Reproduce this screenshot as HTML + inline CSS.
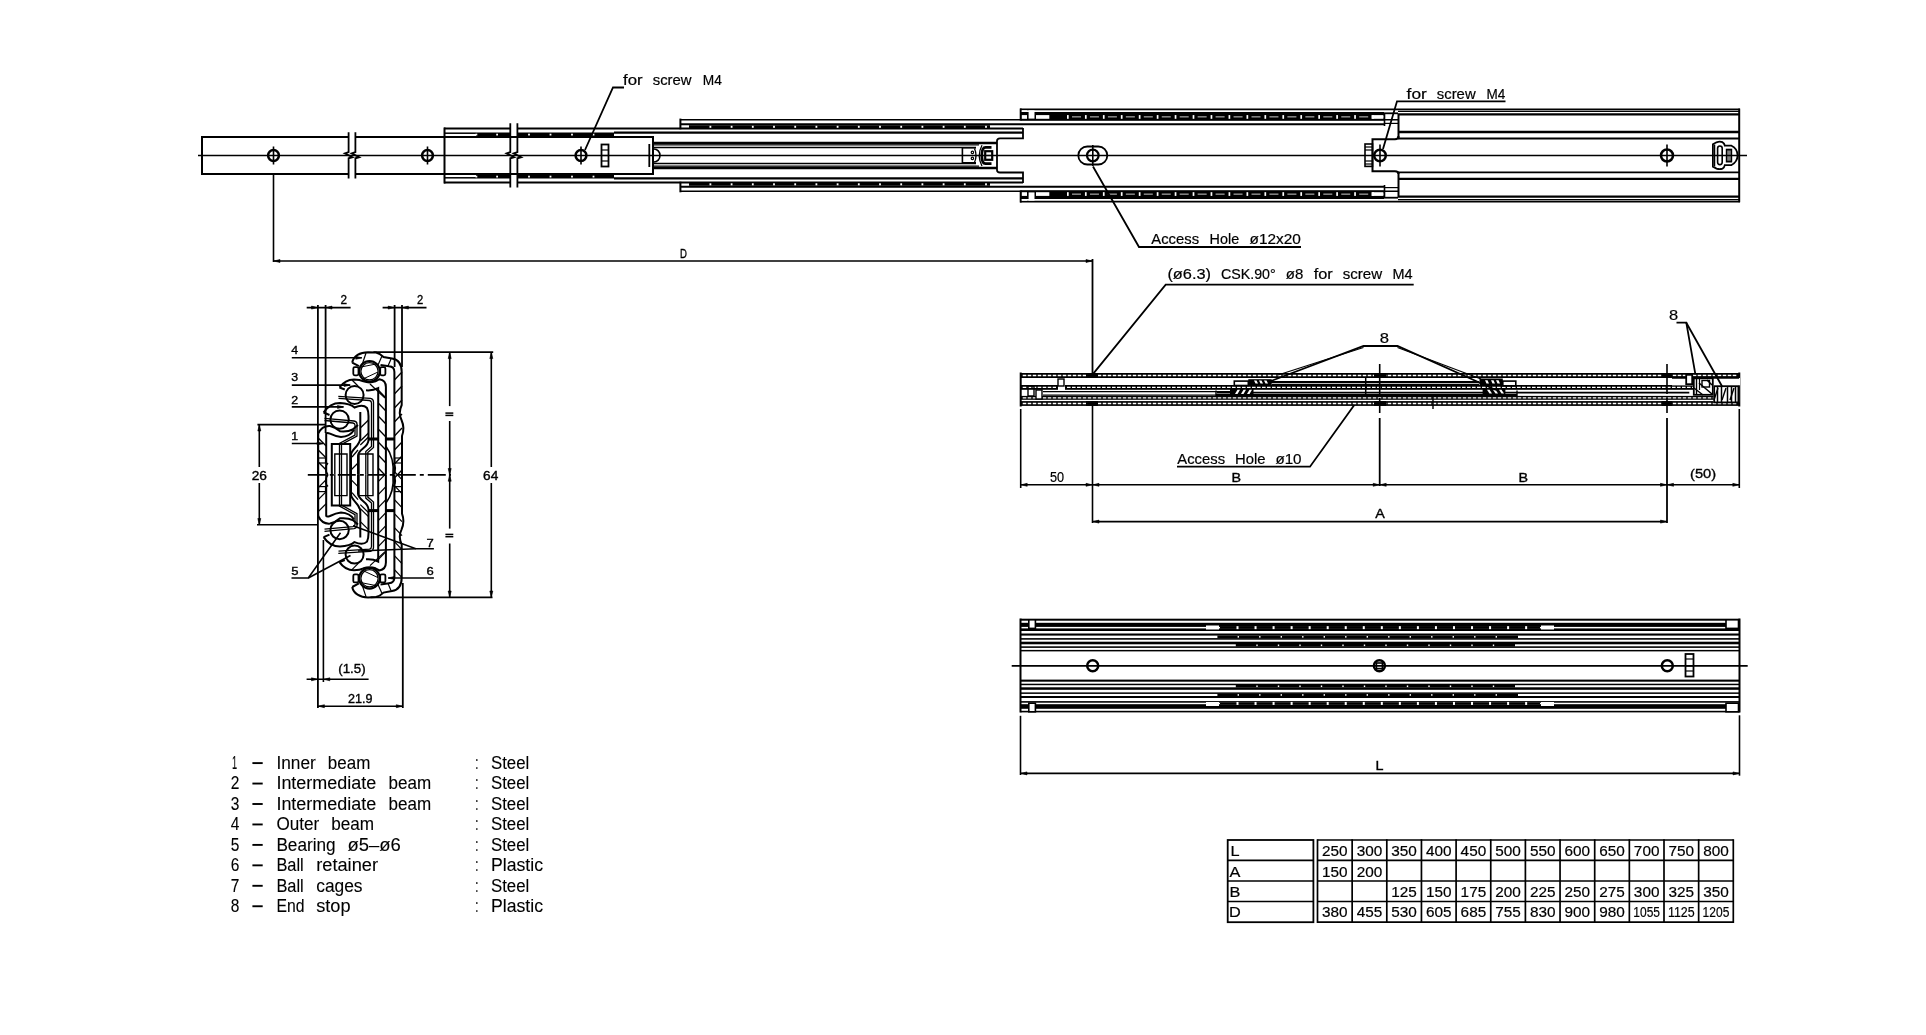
<!DOCTYPE html>
<html><head><meta charset="utf-8"><style>
html,body{margin:0;padding:0;background:#fff;width:1926px;height:1035px;overflow:hidden}
svg{display:block;will-change:transform}
text{font-family:"Liberation Sans",sans-serif;fill:#000}
</style></head><body>
<svg width="1926" height="1035" viewBox="0 0 1926 1035">
<rect x="0" y="0" width="1926" height="1035" fill="#fff"/>
<g stroke="#000" fill="none" stroke-linecap="butt">
<line x1="198" y1="155.5" x2="1747" y2="155.5" stroke-width="1.7" />
<line x1="201" y1="137" x2="349" y2="137" stroke-width="2.0" />
<line x1="356" y1="137" x2="653" y2="137" stroke-width="2.0" />
<line x1="201" y1="174" x2="349" y2="174" stroke-width="2.0" />
<line x1="356" y1="174" x2="653" y2="174" stroke-width="2.0" />
<line x1="202" y1="136" x2="202" y2="175" stroke-width="2.0" />
<line x1="653" y1="136" x2="653" y2="175" stroke-width="2.0" />
<path d="M348.6,132.2 L348.6,152.2 L344.90000000000003,153.4 L352.40000000000003,157.2 L348.6,158.3 L348.6,178.6" fill="none" stroke-width="1.8" />
<path d="M355.4,132.2 L355.4,152.2 L351.7,153.4 L359.2,157.2 L355.4,158.3 L355.4,178.6" fill="none" stroke-width="1.8" />
<circle cx="273.5" cy="155.5" r="5.4" fill="none" stroke-width="2.5"/>
<line x1="273.5" y1="146.5" x2="273.5" y2="164.5" stroke-width="1.6" />
<circle cx="427.5" cy="155.5" r="5.4" fill="none" stroke-width="2.5"/>
<line x1="427.5" y1="146.5" x2="427.5" y2="164.5" stroke-width="1.6" />
<circle cx="581" cy="155.5" r="5.4" fill="none" stroke-width="2.5"/>
<line x1="581" y1="146.5" x2="581" y2="164.5" stroke-width="1.6" />
<line x1="444" y1="128.5" x2="510" y2="128.5" stroke-width="2.0" />
<line x1="518" y1="128.5" x2="1023" y2="128.5" stroke-width="2.0" />
<line x1="444" y1="182.5" x2="510" y2="182.5" stroke-width="2.0" />
<line x1="518" y1="182.5" x2="1023" y2="182.5" stroke-width="2.0" />
<line x1="444.5" y1="127.5" x2="444.5" y2="183.5" stroke-width="2.0" />
<line x1="444" y1="133.2" x2="476" y2="133.2" stroke-width="1.5" />
<line x1="444" y1="177.8" x2="476" y2="177.8" stroke-width="1.5" />
<rect x="476" y="132.5" width="34" height="4.0" fill="#000" stroke="none"/>
<rect x="518" y="132.5" width="96" height="4.0" fill="#000" stroke="none"/>
<rect x="475.5" y="133.7" width="1.8" height="1.8" fill="#fff" stroke="none"/>
<rect x="496.2" y="133.7" width="1.8" height="1.8" fill="#fff" stroke="none"/>
<rect x="528.1" y="133.7" width="1.8" height="1.8" fill="#fff" stroke="none"/>
<rect x="549.6" y="133.7" width="1.8" height="1.8" fill="#fff" stroke="none"/>
<rect x="571.1" y="133.7" width="1.8" height="1.8" fill="#fff" stroke="none"/>
<rect x="592.6" y="133.7" width="1.8" height="1.8" fill="#fff" stroke="none"/>
<rect x="476" y="174.5" width="34" height="4.0" fill="#000" stroke="none"/>
<rect x="518" y="174.5" width="96" height="4.0" fill="#000" stroke="none"/>
<rect x="475.5" y="175.7" width="1.8" height="1.8" fill="#fff" stroke="none"/>
<rect x="496.2" y="175.7" width="1.8" height="1.8" fill="#fff" stroke="none"/>
<rect x="528.1" y="175.7" width="1.8" height="1.8" fill="#fff" stroke="none"/>
<rect x="549.6" y="175.7" width="1.8" height="1.8" fill="#fff" stroke="none"/>
<rect x="571.1" y="175.7" width="1.8" height="1.8" fill="#fff" stroke="none"/>
<rect x="592.6" y="175.7" width="1.8" height="1.8" fill="#fff" stroke="none"/>
<path d="M510.3,123.2 L510.3,152.2 L506.6,153.4 L514.1,157.2 L510.3,158.3 L510.3,187.6" fill="none" stroke-width="1.8" />
<path d="M517.4,123.2 L517.4,152.2 L513.6999999999999,153.4 L521.1999999999999,157.2 L517.4,158.3 L517.4,187.6" fill="none" stroke-width="1.8" />
<rect x="601.5" y="144.5" width="7" height="22" fill="none" stroke-width="1.8"/>
<line x1="601.5" y1="150" x2="608.5" y2="150" stroke-width="1.2" />
<line x1="601.5" y1="155.5" x2="608.5" y2="155.5" stroke-width="1.2" />
<line x1="601.5" y1="161" x2="608.5" y2="161" stroke-width="1.2" />
<line x1="649.3" y1="144" x2="649.3" y2="167" stroke-width="1.8" />
<polyline points="585,150 613,87.5 624,87.5" fill="none" stroke-width="1.8" />
<text x="623.10" y="84.9" font-size="15.41" textLength="19.63" lengthAdjust="spacingAndGlyphs" stroke="#000" stroke-width="0.2">for</text>
<text x="652.70" y="84.9" font-size="15.41" textLength="38.85" lengthAdjust="spacingAndGlyphs" stroke="#000" stroke-width="0.2">screw</text>
<text x="702.80" y="84.9" font-size="15.41" textLength="19.09" lengthAdjust="spacingAndGlyphs" stroke="#000" stroke-width="0.2">M4</text>
<line x1="614" y1="132.6" x2="1023" y2="132.6" stroke-width="2.2" />
<line x1="614" y1="178.4" x2="1023" y2="178.4" stroke-width="2.2" />
<line x1="653" y1="143.0" x2="997" y2="143.0" stroke-width="2.4" />
<line x1="653" y1="144.9" x2="979" y2="144.9" stroke-width="1.1" />
<line x1="653" y1="147.6" x2="976" y2="147.6" stroke-width="1.5" />
<line x1="653" y1="163.4" x2="976" y2="163.4" stroke-width="1.5" />
<line x1="653" y1="166.1" x2="979" y2="166.1" stroke-width="1.1" />
<line x1="653" y1="168.0" x2="997" y2="168.0" stroke-width="2.4" />
<path d="M654,149 A6,6.5 0 0 1 654,162" fill="none" stroke-width="1.6" />
<path d="M1023,128 L1023,138.3 L1000,138.3 Q997,138.3 997,141 L997,170 Q997,172.5 1000,172.5 L1023,172.5 L1023,183" fill="none" stroke-width="1.8" />
<path d="M976,147.8 L962.4,147.8 L962.4,162.8 L976,162.8" fill="none" stroke-width="1.6" />
<circle cx="972.4" cy="152.4" r="1.2" fill="none" stroke-width="1.2"/>
<circle cx="972.4" cy="158.4" r="1.2" fill="none" stroke-width="1.2"/>
<path d="M974.5,148.5 Q977.5,155.5 974.5,162.5" fill="none" stroke-width="1.3" />
<path d="M982,145.2 Q976.5,155.5 982,166" fill="none" stroke-width="1.3" />
<path d="M991.5,147.4 L985.5,147.4 Q981.8,147.4 981.8,155.5 Q981.8,163.6 985.5,163.6 L991.5,163.6" fill="none" stroke-width="2.8" />
<rect x="985.2" y="151.2" width="7" height="8.6" fill="none" stroke-width="2.2"/>
<line x1="986.5" y1="155.5" x2="991.5" y2="155.5" stroke-width="1.2" />
<line x1="680.4" y1="118.6" x2="680.4" y2="129.3" stroke-width="2.0" />
<line x1="680.4" y1="181.7" x2="680.4" y2="192.3" stroke-width="2.0" />
<line x1="680" y1="119.7" x2="1398" y2="119.7" stroke-width="1.6" />
<line x1="680" y1="191.2" x2="1398" y2="191.2" stroke-width="1.6" />
<line x1="680" y1="124.2" x2="1384" y2="124.2" stroke-width="2.0" />
<line x1="680" y1="186.8" x2="1384" y2="186.8" stroke-width="2.0" />
<rect x="689" y="125.2" width="301" height="3.1000000000000085" fill="#000" stroke="none"/>
<rect x="709.5" y="125.8" width="1.8" height="2.0" fill="#fff" stroke="none"/>
<rect x="730.7" y="125.8" width="1.8" height="2.0" fill="#fff" stroke="none"/>
<rect x="751.9" y="125.8" width="1.8" height="2.0" fill="#fff" stroke="none"/>
<rect x="773.1" y="125.8" width="1.8" height="2.0" fill="#fff" stroke="none"/>
<rect x="794.3" y="125.8" width="1.8" height="2.0" fill="#fff" stroke="none"/>
<rect x="815.5" y="125.8" width="1.8" height="2.0" fill="#fff" stroke="none"/>
<rect x="836.7" y="125.8" width="1.8" height="2.0" fill="#fff" stroke="none"/>
<rect x="857.9" y="125.8" width="1.8" height="2.0" fill="#fff" stroke="none"/>
<rect x="879.1" y="125.8" width="1.8" height="2.0" fill="#fff" stroke="none"/>
<rect x="900.3" y="125.8" width="1.8" height="2.0" fill="#fff" stroke="none"/>
<rect x="921.5" y="125.8" width="1.8" height="2.0" fill="#fff" stroke="none"/>
<rect x="942.7" y="125.8" width="1.8" height="2.0" fill="#fff" stroke="none"/>
<rect x="963.9" y="125.8" width="1.8" height="2.0" fill="#fff" stroke="none"/>
<rect x="985.1" y="125.8" width="1.8" height="2.0" fill="#fff" stroke="none"/>
<rect x="689" y="182.7" width="301" height="3.1000000000000227" fill="#000" stroke="none"/>
<rect x="709.5" y="183.29999999999998" width="1.8" height="2.0" fill="#fff" stroke="none"/>
<rect x="730.7" y="183.29999999999998" width="1.8" height="2.0" fill="#fff" stroke="none"/>
<rect x="751.9" y="183.29999999999998" width="1.8" height="2.0" fill="#fff" stroke="none"/>
<rect x="773.1" y="183.29999999999998" width="1.8" height="2.0" fill="#fff" stroke="none"/>
<rect x="794.3" y="183.29999999999998" width="1.8" height="2.0" fill="#fff" stroke="none"/>
<rect x="815.5" y="183.29999999999998" width="1.8" height="2.0" fill="#fff" stroke="none"/>
<rect x="836.7" y="183.29999999999998" width="1.8" height="2.0" fill="#fff" stroke="none"/>
<rect x="857.9" y="183.29999999999998" width="1.8" height="2.0" fill="#fff" stroke="none"/>
<rect x="879.1" y="183.29999999999998" width="1.8" height="2.0" fill="#fff" stroke="none"/>
<rect x="900.3" y="183.29999999999998" width="1.8" height="2.0" fill="#fff" stroke="none"/>
<rect x="921.5" y="183.29999999999998" width="1.8" height="2.0" fill="#fff" stroke="none"/>
<rect x="942.7" y="183.29999999999998" width="1.8" height="2.0" fill="#fff" stroke="none"/>
<rect x="963.9" y="183.29999999999998" width="1.8" height="2.0" fill="#fff" stroke="none"/>
<rect x="985.1" y="183.29999999999998" width="1.8" height="2.0" fill="#fff" stroke="none"/>
<line x1="1020.7" y1="108.5" x2="1020.7" y2="120.5" stroke-width="2.0" />
<line x1="1020.7" y1="190.5" x2="1020.7" y2="202.5" stroke-width="2.0" />
<line x1="1020" y1="109.4" x2="1740" y2="109.4" stroke-width="1.7" />
<line x1="1020" y1="201.6" x2="1740" y2="201.6" stroke-width="1.7" />
<line x1="1384" y1="113.3" x2="1398" y2="113.3" stroke-width="1.8" />
<line x1="1384" y1="197.7" x2="1398" y2="197.7" stroke-width="1.8" />
<rect x="1020.5" y="112.0" width="363.5" height="8.599999999999994" fill="#000" stroke="none"/>
<rect x="1067" y="115.1" width="1.7" height="3.700000000000003" fill="#fff" stroke="none"/>
<rect x="1084.95" y="115.1" width="1.7" height="3.700000000000003" fill="#fff" stroke="none"/>
<rect x="1102.9" y="115.1" width="1.7" height="3.700000000000003" fill="#fff" stroke="none"/>
<rect x="1120.85" y="115.1" width="1.7" height="3.700000000000003" fill="#fff" stroke="none"/>
<rect x="1138.8" y="115.1" width="1.7" height="3.700000000000003" fill="#fff" stroke="none"/>
<rect x="1156.75" y="115.1" width="1.7" height="3.700000000000003" fill="#fff" stroke="none"/>
<rect x="1174.7" y="115.1" width="1.7" height="3.700000000000003" fill="#fff" stroke="none"/>
<rect x="1192.65" y="115.1" width="1.7" height="3.700000000000003" fill="#fff" stroke="none"/>
<rect x="1210.6" y="115.1" width="1.7" height="3.700000000000003" fill="#fff" stroke="none"/>
<rect x="1228.55" y="115.1" width="1.7" height="3.700000000000003" fill="#fff" stroke="none"/>
<rect x="1246.5" y="115.1" width="1.7" height="3.700000000000003" fill="#fff" stroke="none"/>
<rect x="1264.45" y="115.1" width="1.7" height="3.700000000000003" fill="#fff" stroke="none"/>
<rect x="1282.4" y="115.1" width="1.7" height="3.700000000000003" fill="#fff" stroke="none"/>
<rect x="1300.35" y="115.1" width="1.7" height="3.700000000000003" fill="#fff" stroke="none"/>
<rect x="1318.3" y="115.1" width="1.7" height="3.700000000000003" fill="#fff" stroke="none"/>
<rect x="1336.25" y="115.1" width="1.7" height="3.700000000000003" fill="#fff" stroke="none"/>
<rect x="1354.2" y="115.1" width="1.7" height="3.700000000000003" fill="#fff" stroke="none"/>
<rect x="1372.15" y="115.1" width="1.7" height="3.700000000000003" fill="#fff" stroke="none"/>
<rect x="1036" y="115.1" width="13.3" height="3.700000000000003" fill="#fff" stroke="none"/>
<rect x="1371.5" y="115.1" width="12" height="3.700000000000003" fill="#fff" stroke="none"/>
<rect x="1021.8" y="115.1" width="5.2" height="3.700000000000003" fill="#fff" stroke="none"/>
<rect x="1028.6" y="110.4" width="5.9" height="8.199999999999989" fill="#fff" stroke="none"/>
<rect x="1021.8" y="110.3" width="5.2" height="1.5" fill="#fff" stroke="none"/>
<rect x="1072" y="116.5" width="9" height="0.7999999999999972" fill="#fff" stroke="none"/>
<rect x="1089.95" y="116.5" width="9" height="0.7999999999999972" fill="#fff" stroke="none"/>
<rect x="1107.9" y="116.5" width="9" height="0.7999999999999972" fill="#fff" stroke="none"/>
<rect x="1125.85" y="116.5" width="9" height="0.7999999999999972" fill="#fff" stroke="none"/>
<rect x="1143.8" y="116.5" width="9" height="0.7999999999999972" fill="#fff" stroke="none"/>
<rect x="1161.75" y="116.5" width="9" height="0.7999999999999972" fill="#fff" stroke="none"/>
<rect x="1179.7" y="116.5" width="9" height="0.7999999999999972" fill="#fff" stroke="none"/>
<rect x="1197.65" y="116.5" width="9" height="0.7999999999999972" fill="#fff" stroke="none"/>
<rect x="1215.6" y="116.5" width="9" height="0.7999999999999972" fill="#fff" stroke="none"/>
<rect x="1233.55" y="116.5" width="9" height="0.7999999999999972" fill="#fff" stroke="none"/>
<rect x="1251.5" y="116.5" width="9" height="0.7999999999999972" fill="#fff" stroke="none"/>
<rect x="1269.45" y="116.5" width="9" height="0.7999999999999972" fill="#fff" stroke="none"/>
<rect x="1287.4" y="116.5" width="9" height="0.7999999999999972" fill="#fff" stroke="none"/>
<rect x="1305.35" y="116.5" width="9" height="0.7999999999999972" fill="#fff" stroke="none"/>
<rect x="1323.3" y="116.5" width="9" height="0.7999999999999972" fill="#fff" stroke="none"/>
<rect x="1341.25" y="116.5" width="9" height="0.7999999999999972" fill="#fff" stroke="none"/>
<rect x="1359.2" y="116.5" width="9" height="0.7999999999999972" fill="#fff" stroke="none"/>
<rect x="1377.15" y="116.5" width="9" height="0.7999999999999972" fill="#fff" stroke="none"/>
<rect x="1020.5" y="190.4" width="363.5" height="8.599999999999994" fill="#000" stroke="none"/>
<rect x="1067" y="192.2" width="1.7" height="3.700000000000003" fill="#fff" stroke="none"/>
<rect x="1084.95" y="192.2" width="1.7" height="3.700000000000003" fill="#fff" stroke="none"/>
<rect x="1102.9" y="192.2" width="1.7" height="3.700000000000003" fill="#fff" stroke="none"/>
<rect x="1120.85" y="192.2" width="1.7" height="3.700000000000003" fill="#fff" stroke="none"/>
<rect x="1138.8" y="192.2" width="1.7" height="3.700000000000003" fill="#fff" stroke="none"/>
<rect x="1156.75" y="192.2" width="1.7" height="3.700000000000003" fill="#fff" stroke="none"/>
<rect x="1174.7" y="192.2" width="1.7" height="3.700000000000003" fill="#fff" stroke="none"/>
<rect x="1192.65" y="192.2" width="1.7" height="3.700000000000003" fill="#fff" stroke="none"/>
<rect x="1210.6" y="192.2" width="1.7" height="3.700000000000003" fill="#fff" stroke="none"/>
<rect x="1228.55" y="192.2" width="1.7" height="3.700000000000003" fill="#fff" stroke="none"/>
<rect x="1246.5" y="192.2" width="1.7" height="3.700000000000003" fill="#fff" stroke="none"/>
<rect x="1264.45" y="192.2" width="1.7" height="3.700000000000003" fill="#fff" stroke="none"/>
<rect x="1282.4" y="192.2" width="1.7" height="3.700000000000003" fill="#fff" stroke="none"/>
<rect x="1300.35" y="192.2" width="1.7" height="3.700000000000003" fill="#fff" stroke="none"/>
<rect x="1318.3" y="192.2" width="1.7" height="3.700000000000003" fill="#fff" stroke="none"/>
<rect x="1336.25" y="192.2" width="1.7" height="3.700000000000003" fill="#fff" stroke="none"/>
<rect x="1354.2" y="192.2" width="1.7" height="3.700000000000003" fill="#fff" stroke="none"/>
<rect x="1372.15" y="192.2" width="1.7" height="3.700000000000003" fill="#fff" stroke="none"/>
<rect x="1036" y="192.2" width="13.3" height="3.700000000000003" fill="#fff" stroke="none"/>
<rect x="1371.5" y="192.2" width="12" height="3.700000000000003" fill="#fff" stroke="none"/>
<rect x="1021.8" y="192.2" width="5.2" height="3.700000000000003" fill="#fff" stroke="none"/>
<rect x="1028.6" y="192.4" width="5.9" height="8.199999999999989" fill="#fff" stroke="none"/>
<rect x="1021.8" y="199.2" width="5.2" height="1.5" fill="#fff" stroke="none"/>
<rect x="1072" y="193.7" width="9" height="0.7999999999999972" fill="#fff" stroke="none"/>
<rect x="1089.95" y="193.7" width="9" height="0.7999999999999972" fill="#fff" stroke="none"/>
<rect x="1107.9" y="193.7" width="9" height="0.7999999999999972" fill="#fff" stroke="none"/>
<rect x="1125.85" y="193.7" width="9" height="0.7999999999999972" fill="#fff" stroke="none"/>
<rect x="1143.8" y="193.7" width="9" height="0.7999999999999972" fill="#fff" stroke="none"/>
<rect x="1161.75" y="193.7" width="9" height="0.7999999999999972" fill="#fff" stroke="none"/>
<rect x="1179.7" y="193.7" width="9" height="0.7999999999999972" fill="#fff" stroke="none"/>
<rect x="1197.65" y="193.7" width="9" height="0.7999999999999972" fill="#fff" stroke="none"/>
<rect x="1215.6" y="193.7" width="9" height="0.7999999999999972" fill="#fff" stroke="none"/>
<rect x="1233.55" y="193.7" width="9" height="0.7999999999999972" fill="#fff" stroke="none"/>
<rect x="1251.5" y="193.7" width="9" height="0.7999999999999972" fill="#fff" stroke="none"/>
<rect x="1269.45" y="193.7" width="9" height="0.7999999999999972" fill="#fff" stroke="none"/>
<rect x="1287.4" y="193.7" width="9" height="0.7999999999999972" fill="#fff" stroke="none"/>
<rect x="1305.35" y="193.7" width="9" height="0.7999999999999972" fill="#fff" stroke="none"/>
<rect x="1323.3" y="193.7" width="9" height="0.7999999999999972" fill="#fff" stroke="none"/>
<rect x="1341.25" y="193.7" width="9" height="0.7999999999999972" fill="#fff" stroke="none"/>
<rect x="1359.2" y="193.7" width="9" height="0.7999999999999972" fill="#fff" stroke="none"/>
<rect x="1377.15" y="193.7" width="9" height="0.7999999999999972" fill="#fff" stroke="none"/>
<line x1="1398.5" y1="114" x2="1398.5" y2="138.5" stroke-width="2" />
<line x1="1398.5" y1="172.5" x2="1398.5" y2="197" stroke-width="2" />
<line x1="1384.5" y1="114" x2="1384.5" y2="126" stroke-width="1.6" />
<line x1="1384.5" y1="185" x2="1384.5" y2="197" stroke-width="1.6" />
<line x1="1384" y1="123.4" x2="1398" y2="123.4" stroke-width="1.2" />
<line x1="1384" y1="187.6" x2="1398" y2="187.6" stroke-width="1.2" />
<path d="M1398.5,136 Q1398.5,139.3 1395,139.3 L1372.5,139.3 L1372.5,171.3 L1395,171.3 Q1398.5,171.3 1398.5,174" fill="none" stroke-width="2" />
<rect x="1365" y="144" width="7.5" height="22.4" fill="none" stroke-width="1.6"/>
<line x1="1365" y1="147" x2="1372" y2="147" stroke-width="1.2" />
<line x1="1365" y1="150" x2="1372" y2="150" stroke-width="1.2" />
<line x1="1365" y1="161" x2="1372" y2="161" stroke-width="1.2" />
<line x1="1365" y1="164" x2="1372" y2="164" stroke-width="1.2" />
<circle cx="1380" cy="155.5" r="5.8" fill="none" stroke-width="2.5"/>
<line x1="1380" y1="144.5" x2="1380" y2="166.5" stroke-width="1.6" />
<polyline points="1383,149 1397,101.3 1505.5,101.3" fill="none" stroke-width="1.8" />
<text x="1406.60" y="98.8" font-size="15.12" textLength="20.24" lengthAdjust="spacingAndGlyphs" stroke="#000" stroke-width="0.2">for</text>
<text x="1436.80" y="98.8" font-size="15.12" textLength="38.85" lengthAdjust="spacingAndGlyphs" stroke="#000" stroke-width="0.2">screw</text>
<text x="1486.50" y="98.8" font-size="15.12" textLength="18.79" lengthAdjust="spacingAndGlyphs" stroke="#000" stroke-width="0.2">M4</text>
<line x1="1398" y1="111.4" x2="1739" y2="111.4" stroke-width="1.4" />
<line x1="1398" y1="114.4" x2="1739" y2="114.4" stroke-width="2.2" />
<line x1="1398" y1="132.0" x2="1739" y2="132.0" stroke-width="2.4" />
<line x1="1398" y1="138.5" x2="1739" y2="138.5" stroke-width="1.8" />
<line x1="1398" y1="172.4" x2="1739" y2="172.4" stroke-width="1.8" />
<line x1="1398" y1="178.9" x2="1739" y2="178.9" stroke-width="2.4" />
<line x1="1398" y1="196.6" x2="1739" y2="196.6" stroke-width="2.2" />
<line x1="1398" y1="199.6" x2="1739" y2="199.6" stroke-width="1.4" />
<line x1="1739.2" y1="108.6" x2="1739.2" y2="202.2" stroke-width="2" />
<circle cx="1667" cy="155.5" r="6" fill="none" stroke-width="2.5"/>
<line x1="1667" y1="144.5" x2="1667" y2="166.5" stroke-width="1.6" />
<path d="M1712.9,144.3 L1716.5,142.3 Q1719.8,141.2 1722.5,142.2 Q1724.3,143.3 1724.8,145.5 L1731.5,145.7 Q1737.4,148.5 1737.6,155.3 Q1737.4,162 1731.5,165 L1724.8,165.1 Q1724.3,167.7 1722.5,168.6 Q1719.8,169.6 1716.5,168.6 L1712.9,166.6 Z" fill="none" stroke-width="1.8" />
<line x1="1714.6" y1="144.5" x2="1714.6" y2="166.5" stroke-width="1.3" />
<rect x="1717.6" y="146" width="4.6" height="18.6" rx="2.3" fill="none" stroke-width="1.6"/>
<rect x="1726.7" y="149.6" width="4.6" height="12" fill="none" stroke-width="1.8"/>
<line x1="1729" y1="150" x2="1729" y2="161" stroke-width="1.0" />
<rect x="1078.3" y="146.5" width="29" height="18" rx="9" fill="none" stroke-width="1.8"/>
<circle cx="1092.8" cy="155.5" r="5.8" fill="none" stroke-width="2.2"/>
<line x1="1092.8" y1="145" x2="1092.8" y2="166" stroke-width="1.6" />
<polyline points="1093,166.5 1139,247 1301,247" fill="none" stroke-width="1.8" />
<text x="1151.30" y="243.6" font-size="14.83" textLength="47.77" lengthAdjust="spacingAndGlyphs" stroke="#000" stroke-width="0.2">Access</text>
<text x="1209.60" y="243.6" font-size="14.83" textLength="29.52" lengthAdjust="spacingAndGlyphs" stroke="#000" stroke-width="0.2">Hole</text>
<text x="1249.60" y="243.6" font-size="14.83" textLength="51.31" lengthAdjust="spacingAndGlyphs" stroke="#000" stroke-width="0.2">ø12x20</text>
<line x1="273.5" y1="174" x2="273.5" y2="262" stroke-width="1.6" />
<line x1="273.5" y1="261" x2="1092.5" y2="261" stroke-width="1.6" />
<polygon points="280,259.5 274,261 280,262.5" fill="#000" stroke-width="0.6"/>
<polygon points="1086,259.5 1092,261 1086,262.5" fill="#000" stroke-width="0.6"/>
<text x="679.90" y="257.7" font-size="12.94" textLength="6.92" lengthAdjust="spacingAndGlyphs" stroke="#000" stroke-width="0.35">D</text>
<line x1="1092.5" y1="259" x2="1092.5" y2="374" stroke-width="1.8" />
<line x1="1020.7" y1="372.5" x2="1020.7" y2="406.5" stroke-width="2" />
<line x1="1739.3" y1="372.5" x2="1739.3" y2="406.5" stroke-width="2" />
<rect x="1020.7" y="373" width="718.5999999999999" height="5" fill="#000" stroke="none"/>
<line x1="1022.7" y1="375.5" x2="1737.3" y2="375.5" stroke="#fff" stroke-width="1.4" stroke-dasharray="3.6 1.4"/>
<rect x="1020.7" y="385" width="37.299999999999955" height="4.800000000000011" fill="#000" stroke="none"/>
<line x1="1022.7" y1="387.4" x2="1056" y2="387.4" stroke="#fff" stroke-width="1.4" stroke-dasharray="3.6 1.4"/>
<rect x="1065" y="385" width="634.3" height="4.800000000000011" fill="#000" stroke="none"/>
<line x1="1067" y1="387.4" x2="1697.3" y2="387.4" stroke="#fff" stroke-width="1.4" stroke-dasharray="3.6 1.4"/>
<line x1="1043" y1="391.6" x2="1230" y2="391.6" stroke-width="1.3" />
<line x1="1043" y1="395.2" x2="1217" y2="395.2" stroke-width="1.2" />
<line x1="1217" y1="392.6" x2="1689.3" y2="392.6" stroke-width="1.8" />
<line x1="1271" y1="382.0" x2="1479" y2="382.0" stroke-width="1.8" />
<line x1="1216" y1="395.0" x2="1517" y2="395.0" stroke-width="1.8" />
<line x1="1216" y1="390.5" x2="1216" y2="396" stroke-width="1.4" />
<line x1="1517" y1="390.5" x2="1517" y2="396" stroke-width="1.4" />
<line x1="1365.7" y1="378" x2="1365.7" y2="396" stroke-width="1.5" />
<rect x="1020.7" y="395.9" width="718.5999999999999" height="3.900000000000034" fill="#000" stroke="none"/>
<line x1="1022.7" y1="397.85" x2="1737.3" y2="397.85" stroke="#fff" stroke-width="1.4" stroke-dasharray="3.6 1.4"/>
<rect x="1020.7" y="401.1" width="718.5999999999999" height="4.7999999999999545" fill="#000" stroke="none"/>
<line x1="1022.7" y1="403.5" x2="1737.3" y2="403.5" stroke="#fff" stroke-width="1.4" stroke-dasharray="3.6 1.4"/>
<rect x="1058" y="379" width="6" height="7" fill="none" stroke-width="1.4"/>
<rect x="1028" y="386" width="6" height="10" fill="none" stroke-width="1.4"/>
<rect x="1036" y="390" width="6" height="9" fill="#fff" stroke-width="1.4"/>
<rect x="1234.3" y="381.1" width="14" height="4.4" fill="none" stroke-width="1.6"/>
<rect x="1248.3" y="379.2" width="23.4" height="6.4" fill="#000" stroke="none"/>
<polygon points="1254,380.6 1256.5,380.6 1258,383.6 1255.5,383.6" fill="#fff" stroke="none"/>
<polygon points="1259,380.6 1261.5,380.6 1263,383.6 1260.5,383.6" fill="#fff" stroke="none"/>
<polygon points="1264,380.6 1266.5,380.6 1268,383.6 1265.5,383.6" fill="#fff" stroke="none"/>
<line x1="1271.7" y1="384.3" x2="1479" y2="384.3" stroke-width="1.3" />
<rect x="1230" y="388.2" width="23.5" height="7.2" fill="#000" stroke="none"/>
<polygon points="1235,394 1237.5,394 1240,389.8 1237.5,389.8" fill="#fff" stroke="none"/>
<polygon points="1241,394 1243.5,394 1246,389.8 1243.5,389.8" fill="#fff" stroke="none"/>
<polygon points="1247,394 1249.5,394 1252,389.8 1249.5,389.8" fill="#fff" stroke="none"/>
<rect x="1479.5" y="378.5" width="23.3" height="6.6" fill="#000" stroke="none"/>
<rect x="1502.8" y="381.1" width="13" height="4.7" fill="none" stroke-width="1.6"/>
<polygon points="1485,380.2 1487.5,380.2 1489,383.4 1486.5,383.4" fill="#fff" stroke="none"/>
<polygon points="1491,380.2 1493.5,380.2 1495,383.4 1492.5,383.4" fill="#fff" stroke="none"/>
<polygon points="1496,380.2 1498.5,380.2 1500,383.4 1497.5,383.4" fill="#fff" stroke="none"/>
<rect x="1482.6" y="388.6" width="22.8" height="6.0" fill="#000" stroke="none"/>
<polygon points="1487,389.8 1489.5,389.8 1492,393.6 1489.5,393.6" fill="#fff" stroke="none"/>
<polygon points="1493,389.8 1495.5,389.8 1498,393.6 1495.5,393.6" fill="#fff" stroke="none"/>
<polygon points="1499,389.8 1501.5,389.8 1504,393.6 1501.5,393.6" fill="#fff" stroke="none"/>
<rect x="1374" y="373" width="12" height="5" fill="#000" stroke="none"/>
<rect x="1374" y="401.1" width="12" height="4.8" fill="#000" stroke="none"/>
<line x1="1433" y1="396" x2="1433" y2="409" stroke-width="1.4" />
<rect x="1672" y="378" width="68" height="7.4" fill="#fff" stroke="none"/>
<line x1="1672" y1="377.6" x2="1739" y2="377.6" stroke-width="2.2" />
<rect x="1686.2" y="374.8" width="6" height="9.4" fill="#fff" stroke-width="1.8"/>
<rect x="1693.8" y="378.3" width="19" height="16.5" fill="#fff" stroke-width="1.8"/>
<line x1="1696.5" y1="378" x2="1696.5" y2="395" stroke-width="1.4" />
<line x1="1699.5" y1="378" x2="1699.5" y2="390" stroke-width="1.2" />
<rect x="1702" y="380.5" width="7.5" height="6.5" fill="none" stroke-width="1.4"/>
<path d="M1694,388 L1703,395 M1699,383 L1712,394 M1707,380 L1712,385" fill="none" stroke-width="1.5" />
<rect x="1713.5" y="385.4" width="25.6" height="17" fill="#fff" stroke="none"/>
<rect x="1714.2" y="386.2" width="24.2" height="16.2" fill="none" stroke-width="1.8"/>
<line x1="1717.5" y1="386" x2="1717.5" y2="402" stroke-width="1.5" />
<line x1="1721.5" y1="386" x2="1721.5" y2="402" stroke-width="1.5" />
<line x1="1727.5" y1="386" x2="1727.5" y2="402" stroke-width="1.5" />
<line x1="1731.5" y1="386" x2="1731.5" y2="402" stroke-width="1.5" />
<line x1="1735.5" y1="386" x2="1735.5" y2="402" stroke-width="1.5" />
<path d="M1714,400 L1718,388 M1722,400 L1726,388 M1730,400 L1734,388" fill="none" stroke-width="1.4" />
<rect x="1661.7" y="373" width="10.6" height="5" fill="#000" stroke="none"/>
<rect x="1661.7" y="401.1" width="10.6" height="4.8" fill="#000" stroke="none"/>
<rect x="1086" y="373" width="12" height="5" fill="#000" stroke="none"/>
<rect x="1086" y="401.1" width="12" height="4.8" fill="#000" stroke="none"/>
<line x1="1379.7" y1="364" x2="1379.7" y2="413" stroke-width="1.6" stroke-dasharray="30 4 4 4"/>
<line x1="1379.7" y1="418" x2="1379.7" y2="486" stroke-width="1.8" />
<line x1="1667" y1="364" x2="1667" y2="413" stroke-width="1.6" stroke-dasharray="30 4 4 4"/>
<line x1="1667" y1="418" x2="1667" y2="523" stroke-width="1.8" />
<text x="1379.79" y="343" font-size="14.83" textLength="9.24" lengthAdjust="spacingAndGlyphs" stroke="#000" stroke-width="0.2">8</text>
<polyline points="1271,381 1363.5,346 1397.5,346 1496,390" fill="none" stroke-width="1.8" />
<polyline points="1278,375 1363.5,347.5" fill="none" stroke-width="1.2" />
<polyline points="1397.5,347.5 1481,379" fill="none" stroke-width="1.2" />
<text x="1669.14" y="319.6" font-size="14.68" textLength="9.14" lengthAdjust="spacingAndGlyphs" stroke="#000" stroke-width="0.2">8</text>
<polyline points="1676.5,322.7 1686.3,322.7 1695.4,374.3" fill="none" stroke-width="1.8" />
<polyline points="1686.3,322.7 1722,386.2" fill="none" stroke-width="1.8" />
<polyline points="1093.3,373.6 1165.7,284.7 1413.7,284.7" fill="none" stroke-width="1.8" />
<text x="1167.40" y="278.5" font-size="14.97" textLength="43.63" lengthAdjust="spacingAndGlyphs" stroke="#000" stroke-width="0.2">(ø6.3)</text>
<text x="1221.00" y="278.5" font-size="14.97" textLength="54.72" lengthAdjust="spacingAndGlyphs" stroke="#000" stroke-width="0.2">CSK.90°</text>
<text x="1285.80" y="278.5" font-size="14.97" textLength="17.43" lengthAdjust="spacingAndGlyphs" stroke="#000" stroke-width="0.2">ø8</text>
<text x="1313.70" y="278.5" font-size="14.97" textLength="19.03" lengthAdjust="spacingAndGlyphs" stroke="#000" stroke-width="0.2">for</text>
<text x="1342.70" y="278.5" font-size="14.97" textLength="39.45" lengthAdjust="spacingAndGlyphs" stroke="#000" stroke-width="0.2">screw</text>
<text x="1392.50" y="278.5" font-size="14.97" textLength="20.09" lengthAdjust="spacingAndGlyphs" stroke="#000" stroke-width="0.2">M4</text>
<polyline points="1354.3,405 1310,466.7 1177,466.7" fill="none" stroke-width="1.8" />
<text x="1177.30" y="464.1" font-size="14.83" textLength="47.77" lengthAdjust="spacingAndGlyphs" stroke="#000" stroke-width="0.2">Access</text>
<text x="1235.00" y="464.1" font-size="14.83" textLength="30.53" lengthAdjust="spacingAndGlyphs" stroke="#000" stroke-width="0.2">Hole</text>
<text x="1275.40" y="464.1" font-size="14.83" textLength="26.17" lengthAdjust="spacingAndGlyphs" stroke="#000" stroke-width="0.2">ø10</text>
<line x1="1020.7" y1="409" x2="1020.7" y2="488" stroke-width="1.6" />
<line x1="1092.5" y1="406" x2="1092.5" y2="523" stroke-width="1.6" />
<line x1="1739.3" y1="409" x2="1739.3" y2="488" stroke-width="1.6" />
<line x1="1020.7" y1="484.8" x2="1739.3" y2="484.8" stroke-width="1.6" />
<polygon points="1027.2,483.3 1021.2,484.8 1027.2,486.3" fill="#000" stroke-width="0.6"/>
<polygon points="1086.0,483.3 1092.0,484.8 1086.0,486.3" fill="#000" stroke-width="0.6"/>
<polygon points="1099.0,483.3 1093.0,484.8 1099.0,486.3" fill="#000" stroke-width="0.6"/>
<polygon points="1373.2,483.3 1379.2,484.8 1373.2,486.3" fill="#000" stroke-width="0.6"/>
<polygon points="1386.2,483.3 1380.2,484.8 1386.2,486.3" fill="#000" stroke-width="0.6"/>
<polygon points="1660.5,483.3 1666.5,484.8 1660.5,486.3" fill="#000" stroke-width="0.6"/>
<polygon points="1673.5,483.3 1667.5,484.8 1673.5,486.3" fill="#000" stroke-width="0.6"/>
<polygon points="1732.8,483.3 1738.8,484.8 1732.8,486.3" fill="#000" stroke-width="0.6"/>
<text x="1049.90" y="481.8" font-size="14.10" textLength="14.13" lengthAdjust="spacingAndGlyphs" stroke="#000" stroke-width="0.2">50</text>
<text x="1231.54" y="481.5" font-size="12.79" textLength="9.56" lengthAdjust="spacingAndGlyphs" stroke="#000" stroke-width="0.35">B</text>
<text x="1518.54" y="481.5" font-size="12.79" textLength="9.56" lengthAdjust="spacingAndGlyphs" stroke="#000" stroke-width="0.35">B</text>
<text x="1690.06" y="478.4" font-size="13.08" textLength="26.06" lengthAdjust="spacingAndGlyphs" stroke="#000" stroke-width="0.35">(50)</text>
<line x1="1092.5" y1="521.6" x2="1667" y2="521.6" stroke-width="1.6" />
<polygon points="1099,520.1 1093,521.6 1099,523.1" fill="#000" stroke-width="0.6"/>
<polygon points="1660.5,520.1 1666.5,521.6 1660.5,523.1" fill="#000" stroke-width="0.6"/>
<text x="1375.20" y="517.8" font-size="12.79" textLength="9.56" lengthAdjust="spacingAndGlyphs" stroke="#000" stroke-width="0.35">A</text>
<line x1="1011.7" y1="665.8" x2="1747.7" y2="665.8" stroke-width="1.7" />
<line x1="1020.5" y1="618.5" x2="1020.5" y2="712.5" stroke-width="2" />
<line x1="1739.5" y1="618.5" x2="1739.5" y2="712.5" stroke-width="2" />
<rect x="1020.5" y="618.7" width="719.0" height="2.0" fill="#000" stroke="none"/>
<rect x="1020.5" y="622.8" width="719.0" height="4.100000000000023" fill="#000" stroke="none"/>
<rect x="1020.5" y="628.4" width="719.0" height="2.6000000000000227" fill="#000" stroke="none"/>
<rect x="1020.5" y="633.5" width="719.0" height="2.1000000000000227" fill="#000" stroke="none"/>
<rect x="1020.5" y="638.1" width="719.0" height="1.6000000000000227" fill="#000" stroke="none"/>
<rect x="1020.5" y="641.7" width="719.0" height="2.599999999999909" fill="#000" stroke="none"/>
<rect x="1020.5" y="646.3" width="719.0" height="1.6000000000000227" fill="#000" stroke="none"/>
<rect x="1020.5" y="649.9" width="719.0" height="1.5" fill="#000" stroke="none"/>
<rect x="1020.5" y="679.6" width="719.0" height="2.1000000000000227" fill="#000" stroke="none"/>
<rect x="1020.5" y="683.7" width="719.0" height="1.5" fill="#000" stroke="none"/>
<rect x="1020.5" y="687.3" width="719.0" height="2.5" fill="#000" stroke="none"/>
<rect x="1020.5" y="692.4" width="719.0" height="1.5" fill="#000" stroke="none"/>
<rect x="1020.5" y="696" width="719.0" height="2" fill="#000" stroke="none"/>
<rect x="1020.5" y="701.1" width="719.0" height="1.6000000000000227" fill="#000" stroke="none"/>
<rect x="1020.5" y="704.2" width="719.0" height="4.599999999999909" fill="#000" stroke="none"/>
<rect x="1020.5" y="710.8" width="719.0" height="1.6000000000000227" fill="#000" stroke="none"/>
<rect x="1220" y="626.5" width="320" height="2.2999999999999545" fill="#000" stroke="none"/>
<rect x="1236.5" y="626.15" width="2.0" height="3.0" fill="#fff" stroke="none"/>
<rect x="1254.54" y="626.15" width="2.0" height="3.0" fill="#fff" stroke="none"/>
<rect x="1272.58" y="626.15" width="2.0" height="3.0" fill="#fff" stroke="none"/>
<rect x="1290.62" y="626.15" width="2.0" height="3.0" fill="#fff" stroke="none"/>
<rect x="1308.66" y="626.15" width="2.0" height="3.0" fill="#fff" stroke="none"/>
<rect x="1326.7" y="626.15" width="2.0" height="3.0" fill="#fff" stroke="none"/>
<rect x="1344.74" y="626.15" width="2.0" height="3.0" fill="#fff" stroke="none"/>
<rect x="1362.78" y="626.15" width="2.0" height="3.0" fill="#fff" stroke="none"/>
<rect x="1380.82" y="626.15" width="2.0" height="3.0" fill="#fff" stroke="none"/>
<rect x="1398.86" y="626.15" width="2.0" height="3.0" fill="#fff" stroke="none"/>
<rect x="1416.9" y="626.15" width="2.0" height="3.0" fill="#fff" stroke="none"/>
<rect x="1434.94" y="626.15" width="2.0" height="3.0" fill="#fff" stroke="none"/>
<rect x="1452.98" y="626.15" width="2.0" height="3.0" fill="#fff" stroke="none"/>
<rect x="1471.02" y="626.15" width="2.0" height="3.0" fill="#fff" stroke="none"/>
<rect x="1489.06" y="626.15" width="2.0" height="3.0" fill="#fff" stroke="none"/>
<rect x="1507.1" y="626.15" width="2.0" height="3.0" fill="#fff" stroke="none"/>
<rect x="1525.14" y="626.15" width="2.0" height="3.0" fill="#fff" stroke="none"/>
<rect x="1206" y="625.5" width="13" height="4" fill="#fff" stroke="none"/>
<rect x="1541" y="625.5" width="13" height="4" fill="#fff" stroke="none"/>
<rect x="1217.4" y="635.5" width="300.5999999999999" height="2.7000000000000455" fill="#000" stroke="none"/>
<rect x="1237.6" y="636.0500000000001" width="1.4" height="1.6" fill="#fff" stroke="none"/>
<rect x="1259.1" y="636.0500000000001" width="1.4" height="1.6" fill="#fff" stroke="none"/>
<rect x="1280.6" y="636.0500000000001" width="1.4" height="1.6" fill="#fff" stroke="none"/>
<rect x="1302.1" y="636.0500000000001" width="1.4" height="1.6" fill="#fff" stroke="none"/>
<rect x="1323.6" y="636.0500000000001" width="1.4" height="1.6" fill="#fff" stroke="none"/>
<rect x="1345.1" y="636.0500000000001" width="1.4" height="1.6" fill="#fff" stroke="none"/>
<rect x="1366.6" y="636.0500000000001" width="1.4" height="1.6" fill="#fff" stroke="none"/>
<rect x="1388.1" y="636.0500000000001" width="1.4" height="1.6" fill="#fff" stroke="none"/>
<rect x="1409.6" y="636.0500000000001" width="1.4" height="1.6" fill="#fff" stroke="none"/>
<rect x="1431.1" y="636.0500000000001" width="1.4" height="1.6" fill="#fff" stroke="none"/>
<rect x="1452.6" y="636.0500000000001" width="1.4" height="1.6" fill="#fff" stroke="none"/>
<rect x="1474.1" y="636.0500000000001" width="1.4" height="1.6" fill="#fff" stroke="none"/>
<rect x="1495.6" y="636.0500000000001" width="1.4" height="1.6" fill="#fff" stroke="none"/>
<rect x="1235.8" y="644" width="279.20000000000005" height="2.6000000000000227" fill="#000" stroke="none"/>
<rect x="1256.3" y="644.5" width="1.4" height="1.6" fill="#fff" stroke="none"/>
<rect x="1277.8" y="644.5" width="1.4" height="1.6" fill="#fff" stroke="none"/>
<rect x="1299.3" y="644.5" width="1.4" height="1.6" fill="#fff" stroke="none"/>
<rect x="1320.8" y="644.5" width="1.4" height="1.6" fill="#fff" stroke="none"/>
<rect x="1342.3" y="644.5" width="1.4" height="1.6" fill="#fff" stroke="none"/>
<rect x="1363.8" y="644.5" width="1.4" height="1.6" fill="#fff" stroke="none"/>
<rect x="1385.3" y="644.5" width="1.4" height="1.6" fill="#fff" stroke="none"/>
<rect x="1406.8" y="644.5" width="1.4" height="1.6" fill="#fff" stroke="none"/>
<rect x="1428.3" y="644.5" width="1.4" height="1.6" fill="#fff" stroke="none"/>
<rect x="1449.8" y="644.5" width="1.4" height="1.6" fill="#fff" stroke="none"/>
<rect x="1471.3" y="644.5" width="1.4" height="1.6" fill="#fff" stroke="none"/>
<rect x="1492.8" y="644.5" width="1.4" height="1.6" fill="#fff" stroke="none"/>
<rect x="1235.8" y="685" width="279.20000000000005" height="2.5" fill="#000" stroke="none"/>
<rect x="1256.3" y="685.45" width="1.4" height="1.6" fill="#fff" stroke="none"/>
<rect x="1277.8" y="685.45" width="1.4" height="1.6" fill="#fff" stroke="none"/>
<rect x="1299.3" y="685.45" width="1.4" height="1.6" fill="#fff" stroke="none"/>
<rect x="1320.8" y="685.45" width="1.4" height="1.6" fill="#fff" stroke="none"/>
<rect x="1342.3" y="685.45" width="1.4" height="1.6" fill="#fff" stroke="none"/>
<rect x="1363.8" y="685.45" width="1.4" height="1.6" fill="#fff" stroke="none"/>
<rect x="1385.3" y="685.45" width="1.4" height="1.6" fill="#fff" stroke="none"/>
<rect x="1406.8" y="685.45" width="1.4" height="1.6" fill="#fff" stroke="none"/>
<rect x="1428.3" y="685.45" width="1.4" height="1.6" fill="#fff" stroke="none"/>
<rect x="1449.8" y="685.45" width="1.4" height="1.6" fill="#fff" stroke="none"/>
<rect x="1471.3" y="685.45" width="1.4" height="1.6" fill="#fff" stroke="none"/>
<rect x="1492.8" y="685.45" width="1.4" height="1.6" fill="#fff" stroke="none"/>
<rect x="1217.4" y="693.7" width="300.5999999999999" height="2.5" fill="#000" stroke="none"/>
<rect x="1237.6" y="694.1500000000001" width="1.4" height="1.6" fill="#fff" stroke="none"/>
<rect x="1259.1" y="694.1500000000001" width="1.4" height="1.6" fill="#fff" stroke="none"/>
<rect x="1280.6" y="694.1500000000001" width="1.4" height="1.6" fill="#fff" stroke="none"/>
<rect x="1302.1" y="694.1500000000001" width="1.4" height="1.6" fill="#fff" stroke="none"/>
<rect x="1323.6" y="694.1500000000001" width="1.4" height="1.6" fill="#fff" stroke="none"/>
<rect x="1345.1" y="694.1500000000001" width="1.4" height="1.6" fill="#fff" stroke="none"/>
<rect x="1366.6" y="694.1500000000001" width="1.4" height="1.6" fill="#fff" stroke="none"/>
<rect x="1388.1" y="694.1500000000001" width="1.4" height="1.6" fill="#fff" stroke="none"/>
<rect x="1409.6" y="694.1500000000001" width="1.4" height="1.6" fill="#fff" stroke="none"/>
<rect x="1431.1" y="694.1500000000001" width="1.4" height="1.6" fill="#fff" stroke="none"/>
<rect x="1452.6" y="694.1500000000001" width="1.4" height="1.6" fill="#fff" stroke="none"/>
<rect x="1474.1" y="694.1500000000001" width="1.4" height="1.6" fill="#fff" stroke="none"/>
<rect x="1495.6" y="694.1500000000001" width="1.4" height="1.6" fill="#fff" stroke="none"/>
<rect x="1220" y="702.5" width="320" height="1.8999999999999773" fill="#000" stroke="none"/>
<rect x="1236.5" y="701.95" width="2.0" height="3.0" fill="#fff" stroke="none"/>
<rect x="1254.54" y="701.95" width="2.0" height="3.0" fill="#fff" stroke="none"/>
<rect x="1272.58" y="701.95" width="2.0" height="3.0" fill="#fff" stroke="none"/>
<rect x="1290.62" y="701.95" width="2.0" height="3.0" fill="#fff" stroke="none"/>
<rect x="1308.66" y="701.95" width="2.0" height="3.0" fill="#fff" stroke="none"/>
<rect x="1326.7" y="701.95" width="2.0" height="3.0" fill="#fff" stroke="none"/>
<rect x="1344.74" y="701.95" width="2.0" height="3.0" fill="#fff" stroke="none"/>
<rect x="1362.78" y="701.95" width="2.0" height="3.0" fill="#fff" stroke="none"/>
<rect x="1380.82" y="701.95" width="2.0" height="3.0" fill="#fff" stroke="none"/>
<rect x="1398.86" y="701.95" width="2.0" height="3.0" fill="#fff" stroke="none"/>
<rect x="1416.9" y="701.95" width="2.0" height="3.0" fill="#fff" stroke="none"/>
<rect x="1434.94" y="701.95" width="2.0" height="3.0" fill="#fff" stroke="none"/>
<rect x="1452.98" y="701.95" width="2.0" height="3.0" fill="#fff" stroke="none"/>
<rect x="1471.02" y="701.95" width="2.0" height="3.0" fill="#fff" stroke="none"/>
<rect x="1489.06" y="701.95" width="2.0" height="3.0" fill="#fff" stroke="none"/>
<rect x="1507.1" y="701.95" width="2.0" height="3.0" fill="#fff" stroke="none"/>
<rect x="1525.14" y="701.95" width="2.0" height="3.0" fill="#fff" stroke="none"/>
<rect x="1206" y="702" width="13" height="4" fill="#fff" stroke="none"/>
<rect x="1541" y="702" width="13" height="4" fill="#fff" stroke="none"/>
<rect x="1028.8" y="619.8" width="6.6" height="8.6" fill="#fff" stroke-width="1.6"/>
<rect x="1726" y="619.8" width="12.5" height="8.6" fill="#fff" stroke-width="1.6"/>
<rect x="1028.8" y="703.2" width="6.6" height="8.6" fill="#fff" stroke-width="1.6"/>
<rect x="1726" y="703.2" width="12.5" height="8.6" fill="#fff" stroke-width="1.6"/>
<circle cx="1092.7" cy="665.8" r="5.5" fill="none" stroke-width="2.5"/>
<line x1="1092.7" y1="665.8" x2="1092.7" y2="665.8" stroke-width="1.6" />
<circle cx="1379.4" cy="665.8" r="5.5" fill="none" stroke-width="2.5"/>
<line x1="1379.4" y1="665.8" x2="1379.4" y2="665.8" stroke-width="1.6" />
<circle cx="1667.3" cy="665.8" r="5.5" fill="none" stroke-width="2.5"/>
<line x1="1667.3" y1="665.8" x2="1667.3" y2="665.8" stroke-width="1.6" />
<rect x="1376.4" y="663" width="6" height="5.6" fill="none" stroke-width="1.6"/>
<rect x="1685.5" y="654" width="8" height="22.5" fill="none" stroke-width="1.8"/>
<line x1="1685.5" y1="659" x2="1693.5" y2="659" stroke-width="1.2" />
<line x1="1685.5" y1="666" x2="1693.5" y2="666" stroke-width="1.2" />
<line x1="1685.5" y1="671" x2="1693.5" y2="671" stroke-width="1.2" />
<line x1="1020.5" y1="715.8" x2="1020.5" y2="775" stroke-width="1.6" />
<line x1="1739.5" y1="715.3" x2="1739.5" y2="775.7" stroke-width="1.6" />
<line x1="1020.5" y1="773.4" x2="1739.5" y2="773.4" stroke-width="1.6" />
<polygon points="1027.0,771.9 1021.0,773.4 1027.0,774.9" fill="#000" stroke-width="0.6"/>
<polygon points="1733.0,771.9 1739.0,773.4 1733.0,774.9" fill="#000" stroke-width="0.6"/>
<text x="1375.62" y="769.9" font-size="12.79" textLength="7.97" lengthAdjust="spacingAndGlyphs" stroke="#000" stroke-width="0.35">L</text>
<g>
<path d="M352.2,362.6 C353.5,356 360,352.2 368,352.2 L376,352.6 Q380,353.5 383.5,357 L392,358.5 Q401.7,360 401.7,372 L401.7,405 Q398,413 401.5,420 Q405,428 402,436 L402,474.8" fill="none" stroke-width="2" />
<path d="M352.2,362.6 L358.9,366.2" fill="none" stroke-width="2" />
<path d="M394.4,474.8 L394.4,372 Q394.4,366.6 389,366.3 L380.5,365" fill="none" stroke-width="2" />
<line x1="394.4" y1="380" x2="402" y2="372" stroke-width="1.3" />
<line x1="394.4" y1="394" x2="402" y2="386" stroke-width="1.3" />
<line x1="394.4" y1="408" x2="402" y2="400" stroke-width="1.3" />
<line x1="394.4" y1="422" x2="402" y2="414" stroke-width="1.3" />
<line x1="394.4" y1="436" x2="402" y2="428" stroke-width="1.3" />
<line x1="394.4" y1="450" x2="402" y2="442" stroke-width="1.3" />
<line x1="394.4" y1="464" x2="402" y2="456" stroke-width="1.3" />
<line x1="394.4" y1="478" x2="402" y2="470" stroke-width="1.3" />
<line x1="362" y1="365" x2="366" y2="353" stroke-width="1.2" />
<line x1="378" y1="365" x2="382" y2="356" stroke-width="1.2" />
<line x1="388" y1="366" x2="391" y2="359" stroke-width="1.2" />
<circle cx="369.5" cy="371.3" r="10.3" fill="none" stroke-width="2.2"/>
<circle cx="369.5" cy="371.3" r="8.6" fill="none" stroke-width="1.2"/>
<line x1="361" y1="367" x2="376" y2="364" stroke-width="1.0" />
<line x1="363" y1="379" x2="378" y2="372" stroke-width="1.0" />
<rect x="353.3" y="367.2" width="5.2" height="8.1" rx="1.5" fill="none" stroke-width="1.8"/>
<rect x="380.2" y="367.2" width="5.2" height="8.1" rx="1.5" fill="none" stroke-width="1.8"/>
<path d="M339.5,387.5 Q345,379.4 354,379.4 Q360,379.6 363.5,381.3 Q369.5,383.5 375.5,381.3 L379.4,379.2 Q385.9,380 385.9,387 L385.9,474.8" fill="none" stroke-width="2" />
<path d="M378.2,474.8 L378.2,388.1 Q373,390.8 366,390.3" fill="none" stroke-width="2" />
<path d="M339.5,387.5 L344.8,389.5" fill="none" stroke-width="2" />
<line x1="378.2" y1="390" x2="385.9" y2="398" stroke-width="1.3" />
<line x1="378.2" y1="403" x2="385.9" y2="411" stroke-width="1.3" />
<line x1="378.2" y1="416" x2="385.9" y2="424" stroke-width="1.3" />
<line x1="378.2" y1="429" x2="385.9" y2="437" stroke-width="1.3" />
<line x1="378.2" y1="442" x2="385.9" y2="450" stroke-width="1.3" />
<line x1="378.2" y1="455" x2="385.9" y2="463" stroke-width="1.3" />
<line x1="378.2" y1="468" x2="385.9" y2="476" stroke-width="1.3" />
<line x1="352" y1="380" x2="358" y2="386" stroke-width="1.2" />
<line x1="370" y1="384" x2="385" y2="398" stroke-width="1.2" />
<circle cx="354.6" cy="395" r="9.0" fill="none" stroke-width="2.0"/>
<path d="M338.3,396.3 L370.5,398.3 Q373.5,399 373.5,402 L373.5,447.5 L367.8,452.5 L367.8,474.8" fill="none" stroke-width="1.3" />
<path d="M338.5,398.4 L369.5,400.5 Q371.5,401 371.5,403 L371.5,446.5 L365.8,451.5 L365.8,474.8" fill="none" stroke-width="1.3" />
<path d="M323.6,412.5 Q330,403 340,403 Q350,403.5 354.5,407.5 Q363,404 367,408 Q368.5,411 368.5,416 L368.5,440 C368.5,448 358,449 358,456 L358,474.8" fill="none" stroke-width="2" />
<path d="M351,474.8 L351,455 C351,449 360.3,446 360.3,438 L360.3,412" fill="none" stroke-width="2" />
<path d="M323.6,412.5 L329.5,415" fill="none" stroke-width="2" />
<line x1="360.3" y1="428" x2="368.5" y2="420" stroke-width="1.3" />
<line x1="360.3" y1="441" x2="368.5" y2="433" stroke-width="1.3" />
<line x1="352" y1="457" x2="358" y2="450" stroke-width="1.3" />
<line x1="351" y1="470" x2="358" y2="463" stroke-width="1.3" />
<path d="M386,446.5 Q394.5,458 393,474.8" fill="none" stroke-width="1.6" />
<circle cx="339.6" cy="419.6" r="9.2" fill="none" stroke-width="2.0"/>
<path d="M324.5,418.3 L354,421 Q357,421.5 357,424 L357,436 L341.5,444.5 L341.5,474.8" fill="none" stroke-width="1.3" />
<path d="M324.5,420.5 L353,423 Q355,423.5 355,425 L355,435 L339.5,443.5 L339.5,474.8" fill="none" stroke-width="1.3" />
<path d="M318.2,433.6 Q322,425.4 330,426 Q335,427 340,431.3 Q348,432 352.7,429.5 L358,425" fill="none" stroke-width="2" />
<path d="M326.2,474.8 L326.2,433.6 Q327,432.5 330,433.6 Q336,436.5 341,437 Q350,436.5 354,430" fill="none" stroke-width="2" />
<line x1="318.2" y1="433.6" x2="318.2" y2="474.8" stroke-width="2" />
<line x1="318.2" y1="438" x2="326.2" y2="446" stroke-width="1.3" />
<line x1="318.2" y1="450" x2="326.2" y2="458" stroke-width="1.3" />
<line x1="318.2" y1="462" x2="326.2" y2="470" stroke-width="1.3" />
<path d="M331.8,474.8 L331.8,444 L350.2,444 L350.2,474.8" fill="none" stroke-width="2" />
<path d="M334.8,474.8 L334.8,454 L347,454 L347,474.8" fill="none" stroke-width="1.4" />
<path d="M359,474.8 L359,454 L373,454 L373,474.8" fill="none" stroke-width="1.4" />
<rect x="368" y="437.5" width="11" height="3" fill="#000" stroke="none"/>
<rect x="386" y="437.5" width="8.6" height="3" fill="#000" stroke="none"/>
<line x1="360.3" y1="445" x2="368.5" y2="437" stroke-width="1.3" />
<rect x="318.5" y="458" width="7" height="5" fill="none" stroke-width="1.2"/>
<rect x="394.8" y="458" width="7" height="5" fill="none" stroke-width="1.2"/>
<path d="M328,463 Q323,468 328,474.8" fill="none" stroke-width="1.4" />
<path d="M393,463 Q398,468 393,474.8" fill="none" stroke-width="1.4" />
</g>
<g transform="matrix(1,0,0,-1,0,949.6)">
<path d="M352.2,362.6 C353.5,356 360,352.2 368,352.2 L376,352.6 Q380,353.5 383.5,357 L392,358.5 Q401.7,360 401.7,372 L401.7,405 Q398,413 401.5,420 Q405,428 402,436 L402,474.8" fill="none" stroke-width="2" />
<path d="M352.2,362.6 L358.9,366.2" fill="none" stroke-width="2" />
<path d="M394.4,474.8 L394.4,372 Q394.4,366.6 389,366.3 L380.5,365" fill="none" stroke-width="2" />
<line x1="394.4" y1="380" x2="402" y2="372" stroke-width="1.3" />
<line x1="394.4" y1="394" x2="402" y2="386" stroke-width="1.3" />
<line x1="394.4" y1="408" x2="402" y2="400" stroke-width="1.3" />
<line x1="394.4" y1="422" x2="402" y2="414" stroke-width="1.3" />
<line x1="394.4" y1="436" x2="402" y2="428" stroke-width="1.3" />
<line x1="394.4" y1="450" x2="402" y2="442" stroke-width="1.3" />
<line x1="394.4" y1="464" x2="402" y2="456" stroke-width="1.3" />
<line x1="394.4" y1="478" x2="402" y2="470" stroke-width="1.3" />
<line x1="362" y1="365" x2="366" y2="353" stroke-width="1.2" />
<line x1="378" y1="365" x2="382" y2="356" stroke-width="1.2" />
<line x1="388" y1="366" x2="391" y2="359" stroke-width="1.2" />
<circle cx="369.5" cy="371.3" r="10.3" fill="none" stroke-width="2.2"/>
<circle cx="369.5" cy="371.3" r="8.6" fill="none" stroke-width="1.2"/>
<line x1="361" y1="367" x2="376" y2="364" stroke-width="1.0" />
<line x1="363" y1="379" x2="378" y2="372" stroke-width="1.0" />
<rect x="353.3" y="367.2" width="5.2" height="8.1" rx="1.5" fill="none" stroke-width="1.8"/>
<rect x="380.2" y="367.2" width="5.2" height="8.1" rx="1.5" fill="none" stroke-width="1.8"/>
<path d="M339.5,387.5 Q345,379.4 354,379.4 Q360,379.6 363.5,381.3 Q369.5,383.5 375.5,381.3 L379.4,379.2 Q385.9,380 385.9,387 L385.9,474.8" fill="none" stroke-width="2" />
<path d="M378.2,474.8 L378.2,388.1 Q373,390.8 366,390.3" fill="none" stroke-width="2" />
<path d="M339.5,387.5 L344.8,389.5" fill="none" stroke-width="2" />
<line x1="378.2" y1="390" x2="385.9" y2="398" stroke-width="1.3" />
<line x1="378.2" y1="403" x2="385.9" y2="411" stroke-width="1.3" />
<line x1="378.2" y1="416" x2="385.9" y2="424" stroke-width="1.3" />
<line x1="378.2" y1="429" x2="385.9" y2="437" stroke-width="1.3" />
<line x1="378.2" y1="442" x2="385.9" y2="450" stroke-width="1.3" />
<line x1="378.2" y1="455" x2="385.9" y2="463" stroke-width="1.3" />
<line x1="378.2" y1="468" x2="385.9" y2="476" stroke-width="1.3" />
<line x1="352" y1="380" x2="358" y2="386" stroke-width="1.2" />
<line x1="370" y1="384" x2="385" y2="398" stroke-width="1.2" />
<circle cx="354.6" cy="395" r="9.0" fill="none" stroke-width="2.0"/>
<path d="M338.3,396.3 L370.5,398.3 Q373.5,399 373.5,402 L373.5,447.5 L367.8,452.5 L367.8,474.8" fill="none" stroke-width="1.3" />
<path d="M338.5,398.4 L369.5,400.5 Q371.5,401 371.5,403 L371.5,446.5 L365.8,451.5 L365.8,474.8" fill="none" stroke-width="1.3" />
<path d="M323.6,412.5 Q330,403 340,403 Q350,403.5 354.5,407.5 Q363,404 367,408 Q368.5,411 368.5,416 L368.5,440 C368.5,448 358,449 358,456 L358,474.8" fill="none" stroke-width="2" />
<path d="M351,474.8 L351,455 C351,449 360.3,446 360.3,438 L360.3,412" fill="none" stroke-width="2" />
<path d="M323.6,412.5 L329.5,415" fill="none" stroke-width="2" />
<line x1="360.3" y1="428" x2="368.5" y2="420" stroke-width="1.3" />
<line x1="360.3" y1="441" x2="368.5" y2="433" stroke-width="1.3" />
<line x1="352" y1="457" x2="358" y2="450" stroke-width="1.3" />
<line x1="351" y1="470" x2="358" y2="463" stroke-width="1.3" />
<path d="M386,446.5 Q394.5,458 393,474.8" fill="none" stroke-width="1.6" />
<circle cx="339.6" cy="419.6" r="9.2" fill="none" stroke-width="2.0"/>
<path d="M324.5,418.3 L354,421 Q357,421.5 357,424 L357,436 L341.5,444.5 L341.5,474.8" fill="none" stroke-width="1.3" />
<path d="M324.5,420.5 L353,423 Q355,423.5 355,425 L355,435 L339.5,443.5 L339.5,474.8" fill="none" stroke-width="1.3" />
<path d="M318.2,433.6 Q322,425.4 330,426 Q335,427 340,431.3 Q348,432 352.7,429.5 L358,425" fill="none" stroke-width="2" />
<path d="M326.2,474.8 L326.2,433.6 Q327,432.5 330,433.6 Q336,436.5 341,437 Q350,436.5 354,430" fill="none" stroke-width="2" />
<line x1="318.2" y1="433.6" x2="318.2" y2="474.8" stroke-width="2" />
<line x1="318.2" y1="438" x2="326.2" y2="446" stroke-width="1.3" />
<line x1="318.2" y1="450" x2="326.2" y2="458" stroke-width="1.3" />
<line x1="318.2" y1="462" x2="326.2" y2="470" stroke-width="1.3" />
<path d="M331.8,474.8 L331.8,444 L350.2,444 L350.2,474.8" fill="none" stroke-width="2" />
<path d="M334.8,474.8 L334.8,454 L347,454 L347,474.8" fill="none" stroke-width="1.4" />
<path d="M359,474.8 L359,454 L373,454 L373,474.8" fill="none" stroke-width="1.4" />
<rect x="368" y="437.5" width="11" height="3" fill="#000" stroke="none"/>
<rect x="386" y="437.5" width="8.6" height="3" fill="#000" stroke="none"/>
<line x1="360.3" y1="445" x2="368.5" y2="437" stroke-width="1.3" />
<rect x="318.5" y="458" width="7" height="5" fill="none" stroke-width="1.2"/>
<rect x="394.8" y="458" width="7" height="5" fill="none" stroke-width="1.2"/>
<path d="M328,463 Q323,468 328,474.8" fill="none" stroke-width="1.4" />
<path d="M393,463 Q398,468 393,474.8" fill="none" stroke-width="1.4" />
</g>
<line x1="317.9" y1="305" x2="317.9" y2="708" stroke-width="1.8" />
<line x1="325.6" y1="305" x2="325.6" y2="433" stroke-width="1.8" />
<line x1="323.4" y1="540" x2="323.4" y2="682" stroke-width="1.6" />
<line x1="394.6" y1="305" x2="394.6" y2="367" stroke-width="1.8" />
<line x1="402" y1="305" x2="402" y2="367" stroke-width="1.8" />
<line x1="402.8" y1="583" x2="402.8" y2="708" stroke-width="1.8" />
<line x1="306.7" y1="307.6" x2="350.6" y2="307.6" stroke-width="1.6" />
<polygon points="311.5,306.1 317.5,307.6 311.5,309.1" fill="#000" stroke-width="0.6"/>
<polygon points="332,306.1 326,307.6 332,309.1" fill="#000" stroke-width="0.6"/>
<text x="340.60" y="304" font-size="12.65" textLength="6.51" lengthAdjust="spacingAndGlyphs" stroke="#000" stroke-width="0.35">2</text>
<line x1="382.6" y1="307.6" x2="426.5" y2="307.6" stroke-width="1.6" />
<polygon points="388.2,306.1 394.2,307.6 388.2,309.1" fill="#000" stroke-width="0.6"/>
<polygon points="408.4,306.1 402.4,307.6 408.4,309.1" fill="#000" stroke-width="0.6"/>
<text x="416.90" y="304" font-size="12.65" textLength="6.21" lengthAdjust="spacingAndGlyphs" stroke="#000" stroke-width="0.35">2</text>
<line x1="373.4" y1="352.1" x2="493.2" y2="352.1" stroke-width="1.8" />
<line x1="370.6" y1="597.4" x2="492.5" y2="597.4" stroke-width="1.8" />
<line x1="449.7" y1="352.1" x2="449.7" y2="406.1" stroke-width="1.6" />
<line x1="449.7" y1="421" x2="449.7" y2="475" stroke-width="1.6" />
<line x1="449.7" y1="475" x2="449.7" y2="528.6" stroke-width="1.6" />
<line x1="449.7" y1="543.5" x2="449.7" y2="597.4" stroke-width="1.6" />
<polygon points="448.2,358.6 449.7,352.6 451.2,358.6" fill="#000" stroke-width="0.6"/>
<polygon points="448.2,468.5 449.7,474.5 451.2,468.5" fill="#000" stroke-width="0.6"/>
<polygon points="448.2,481.2 449.7,475.2 451.2,481.2" fill="#000" stroke-width="0.6"/>
<polygon points="448.2,591 449.7,597 451.2,591" fill="#000" stroke-width="0.6"/>
<line x1="445.4" y1="413.1" x2="453.3" y2="413.1" stroke-width="1.5" />
<line x1="445.4" y1="415.4" x2="453.3" y2="415.4" stroke-width="1.5" />
<line x1="445.4" y1="534.4" x2="453.3" y2="534.4" stroke-width="1.5" />
<line x1="445.4" y1="536.7" x2="453.3" y2="536.7" stroke-width="1.5" />
<line x1="491.3" y1="352.1" x2="491.3" y2="467" stroke-width="1.6" />
<line x1="491.3" y1="483" x2="491.3" y2="597.4" stroke-width="1.6" />
<polygon points="489.8,358.6 491.3,352.6 492.8,358.6" fill="#000" stroke-width="0.6"/>
<polygon points="489.8,591 491.3,597 492.8,591" fill="#000" stroke-width="0.6"/>
<text x="483.11" y="479.6" font-size="12.21" textLength="15.21" lengthAdjust="spacingAndGlyphs" stroke="#000" stroke-width="0.35">64</text>
<line x1="257.4" y1="424.6" x2="325" y2="424.6" stroke-width="1.6" />
<line x1="257" y1="524.8" x2="317.9" y2="524.8" stroke-width="1.6" />
<line x1="259.3" y1="424.6" x2="259.3" y2="467" stroke-width="1.6" />
<line x1="259.3" y1="483" x2="259.3" y2="524.8" stroke-width="1.6" />
<polygon points="257.8,431 259.3,425 260.8,431" fill="#000" stroke-width="0.6"/>
<polygon points="257.8,518.5 259.3,524.5 260.8,518.5" fill="#000" stroke-width="0.6"/>
<text x="251.71" y="479.6" font-size="12.21" textLength="15.21" lengthAdjust="spacingAndGlyphs" stroke="#000" stroke-width="0.35">26</text>
<line x1="307.8" y1="474.8" x2="451" y2="474.8" stroke-width="1.8" stroke-dasharray="18 4 4 4"/>
<text x="291.27" y="354.3" font-size="11.05" textLength="6.88" lengthAdjust="spacingAndGlyphs" stroke="#000" stroke-width="0.35">4</text>
<line x1="291.8" y1="357.8" x2="361.8" y2="357.8" stroke-width="1.6" />
<polygon points="355.8,356.3 361.8,357.8 355.8,359.3" fill="#000" stroke-width="0.6"/>
<text x="291.27" y="381.2" font-size="11.05" textLength="6.88" lengthAdjust="spacingAndGlyphs" stroke="#000" stroke-width="0.35">3</text>
<line x1="291.8" y1="385.1" x2="350.2" y2="385.1" stroke-width="1.6" />
<polygon points="344.2,383.6 350.2,385.1 344.2,386.6" fill="#000" stroke-width="0.6"/>
<text x="291.27" y="403.7" font-size="11.05" textLength="6.88" lengthAdjust="spacingAndGlyphs" stroke="#000" stroke-width="0.35">2</text>
<line x1="291.8" y1="406.9" x2="343.5" y2="406.9" stroke-width="1.6" />
<polygon points="337.5,405.4 343.5,406.9 337.5,408.4" fill="#000" stroke-width="0.6"/>
<text x="291.27" y="440.3" font-size="11.05" textLength="6.88" lengthAdjust="spacingAndGlyphs" stroke="#000" stroke-width="0.35">1</text>
<line x1="291.8" y1="443.5" x2="323.1" y2="443.5" stroke-width="1.6" />
<polygon points="317.1,442.0 323.1,443.5 317.1,445.0" fill="#000" stroke-width="0.6"/>
<text x="426.59" y="546.7" font-size="11.63" textLength="7.24" lengthAdjust="spacingAndGlyphs" stroke="#000" stroke-width="0.35">7</text>
<polyline points="353,525.8 415.8,548.7 433.9,548.7" fill="none" stroke-width="1.6" />
<line x1="415.8" y1="548.7" x2="358" y2="551" stroke-width="1.6" />
<text x="291.19" y="575.3" font-size="11.63" textLength="7.24" lengthAdjust="spacingAndGlyphs" stroke="#000" stroke-width="0.35">5</text>
<polyline points="340.5,532.8 308.3,578 291.5,578" fill="none" stroke-width="1.6" />
<line x1="308.3" y1="578" x2="350.5" y2="555.5" stroke-width="1.6" />
<text x="426.59" y="575.3" font-size="11.63" textLength="7.24" lengthAdjust="spacingAndGlyphs" stroke="#000" stroke-width="0.35">6</text>
<line x1="388.2" y1="578" x2="433.9" y2="578" stroke-width="1.6" />
<polygon points="394.2,576.5 388.2,578 394.2,579.5" fill="#000" stroke-width="0.6"/>
<line x1="306.6" y1="679.3" x2="368.6" y2="679.3" stroke-width="1.6" />
<polygon points="311.5,677.8 317.5,679.3 311.5,680.8" fill="#000" stroke-width="0.6"/>
<polygon points="329.8,677.8 323.8,679.3 329.8,680.8" fill="#000" stroke-width="0.6"/>
<text x="338.20" y="672.8" font-size="12.35" textLength="27.42" lengthAdjust="spacingAndGlyphs" stroke="#000" stroke-width="0.35">(1.5)</text>
<line x1="317.9" y1="706.2" x2="402.8" y2="706.2" stroke-width="1.6" />
<polygon points="324.4,704.7 318.4,706.2 324.4,707.7" fill="#000" stroke-width="0.6"/>
<polygon points="396.3,704.7 402.3,706.2 396.3,707.7" fill="#000" stroke-width="0.6"/>
<text x="348.10" y="702.6" font-size="12.50" textLength="24.42" lengthAdjust="spacingAndGlyphs" stroke="#000" stroke-width="0.35">21.9</text>
<text x="231.90" y="768.8" font-size="17.44" textLength="5.11" lengthAdjust="spacingAndGlyphs" stroke="#000" stroke-width="0.1">1</text>
<line x1="252.4" y1="763.0999999999999" x2="262.7" y2="763.0999999999999" stroke-width="1.9" />
<text x="276.40" y="768.8" font-size="17.44" textLength="39.39" lengthAdjust="spacingAndGlyphs" stroke="#000" stroke-width="0.1">Inner</text>
<text x="327.80" y="768.8" font-size="17.44" textLength="42.53" lengthAdjust="spacingAndGlyphs" stroke="#000" stroke-width="0.1">beam</text>
<text x="475.30" y="768.8" font-size="17.44" textLength="3.17" lengthAdjust="spacingAndGlyphs" stroke="#000" stroke-width="0.1">:</text>
<text x="491.00" y="768.8" font-size="17.44" textLength="38.29" lengthAdjust="spacingAndGlyphs" stroke="#000" stroke-width="0.1">Steel</text>
<text x="230.70" y="789.25" font-size="17.44" textLength="8.62" lengthAdjust="spacingAndGlyphs" stroke="#000" stroke-width="0.1">2</text>
<line x1="252.4" y1="783.55" x2="262.7" y2="783.55" stroke-width="1.9" />
<text x="276.40" y="789.25" font-size="17.44" textLength="99.88" lengthAdjust="spacingAndGlyphs" stroke="#000" stroke-width="0.1">Intermediate</text>
<text x="388.60" y="789.25" font-size="17.44" textLength="42.63" lengthAdjust="spacingAndGlyphs" stroke="#000" stroke-width="0.1">beam</text>
<text x="475.30" y="789.25" font-size="17.44" textLength="3.17" lengthAdjust="spacingAndGlyphs" stroke="#000" stroke-width="0.1">:</text>
<text x="491.00" y="789.25" font-size="17.44" textLength="38.29" lengthAdjust="spacingAndGlyphs" stroke="#000" stroke-width="0.1">Steel</text>
<text x="230.70" y="809.7" font-size="17.44" textLength="8.62" lengthAdjust="spacingAndGlyphs" stroke="#000" stroke-width="0.1">3</text>
<line x1="252.4" y1="804.0" x2="262.7" y2="804.0" stroke-width="1.9" />
<text x="276.40" y="809.7" font-size="17.44" textLength="99.88" lengthAdjust="spacingAndGlyphs" stroke="#000" stroke-width="0.1">Intermediate</text>
<text x="388.60" y="809.7" font-size="17.44" textLength="42.63" lengthAdjust="spacingAndGlyphs" stroke="#000" stroke-width="0.1">beam</text>
<text x="475.30" y="809.7" font-size="17.44" textLength="3.17" lengthAdjust="spacingAndGlyphs" stroke="#000" stroke-width="0.1">:</text>
<text x="491.00" y="809.7" font-size="17.44" textLength="38.29" lengthAdjust="spacingAndGlyphs" stroke="#000" stroke-width="0.1">Steel</text>
<text x="230.70" y="830.15" font-size="17.44" textLength="8.62" lengthAdjust="spacingAndGlyphs" stroke="#000" stroke-width="0.1">4</text>
<line x1="252.4" y1="824.4499999999999" x2="262.7" y2="824.4499999999999" stroke-width="1.9" />
<text x="276.40" y="830.15" font-size="17.44" textLength="42.82" lengthAdjust="spacingAndGlyphs" stroke="#000" stroke-width="0.1">Outer</text>
<text x="331.20" y="830.15" font-size="17.44" textLength="42.93" lengthAdjust="spacingAndGlyphs" stroke="#000" stroke-width="0.1">beam</text>
<text x="475.30" y="830.15" font-size="17.44" textLength="3.17" lengthAdjust="spacingAndGlyphs" stroke="#000" stroke-width="0.1">:</text>
<text x="491.00" y="830.15" font-size="17.44" textLength="38.29" lengthAdjust="spacingAndGlyphs" stroke="#000" stroke-width="0.1">Steel</text>
<text x="230.70" y="850.6" font-size="17.44" textLength="8.62" lengthAdjust="spacingAndGlyphs" stroke="#000" stroke-width="0.1">5</text>
<line x1="252.4" y1="844.9" x2="262.7" y2="844.9" stroke-width="1.9" />
<text x="276.40" y="850.6" font-size="17.44" textLength="59.23" lengthAdjust="spacingAndGlyphs" stroke="#000" stroke-width="0.1">Bearing</text>
<text x="347.50" y="850.6" font-size="17.44" textLength="53.40" lengthAdjust="spacingAndGlyphs" stroke="#000" stroke-width="0.1">ø5–ø6</text>
<text x="475.30" y="850.6" font-size="17.44" textLength="3.17" lengthAdjust="spacingAndGlyphs" stroke="#000" stroke-width="0.1">:</text>
<text x="491.00" y="850.6" font-size="17.44" textLength="38.29" lengthAdjust="spacingAndGlyphs" stroke="#000" stroke-width="0.1">Steel</text>
<text x="230.70" y="871.05" font-size="17.44" textLength="8.62" lengthAdjust="spacingAndGlyphs" stroke="#000" stroke-width="0.1">6</text>
<line x1="252.4" y1="865.3499999999999" x2="262.7" y2="865.3499999999999" stroke-width="1.9" />
<text x="276.40" y="871.05" font-size="17.44" textLength="27.36" lengthAdjust="spacingAndGlyphs" stroke="#000" stroke-width="0.1">Ball</text>
<text x="316.20" y="871.05" font-size="17.44" textLength="61.81" lengthAdjust="spacingAndGlyphs" stroke="#000" stroke-width="0.1">retainer</text>
<text x="475.30" y="871.05" font-size="17.44" textLength="3.17" lengthAdjust="spacingAndGlyphs" stroke="#000" stroke-width="0.1">:</text>
<text x="491.00" y="871.05" font-size="17.44" textLength="52.01" lengthAdjust="spacingAndGlyphs" stroke="#000" stroke-width="0.1">Plastic</text>
<text x="230.70" y="891.5" font-size="17.44" textLength="8.62" lengthAdjust="spacingAndGlyphs" stroke="#000" stroke-width="0.1">7</text>
<line x1="252.4" y1="885.8" x2="262.7" y2="885.8" stroke-width="1.9" />
<text x="276.40" y="891.5" font-size="17.44" textLength="27.36" lengthAdjust="spacingAndGlyphs" stroke="#000" stroke-width="0.1">Ball</text>
<text x="316.20" y="891.5" font-size="17.44" textLength="46.37" lengthAdjust="spacingAndGlyphs" stroke="#000" stroke-width="0.1">cages</text>
<text x="475.30" y="891.5" font-size="17.44" textLength="3.17" lengthAdjust="spacingAndGlyphs" stroke="#000" stroke-width="0.1">:</text>
<text x="491.00" y="891.5" font-size="17.44" textLength="38.29" lengthAdjust="spacingAndGlyphs" stroke="#000" stroke-width="0.1">Steel</text>
<text x="230.70" y="911.95" font-size="17.44" textLength="8.62" lengthAdjust="spacingAndGlyphs" stroke="#000" stroke-width="0.1">8</text>
<line x1="252.4" y1="906.25" x2="262.7" y2="906.25" stroke-width="1.9" />
<text x="276.40" y="911.95" font-size="17.44" textLength="27.99" lengthAdjust="spacingAndGlyphs" stroke="#000" stroke-width="0.1">End</text>
<text x="316.20" y="911.95" font-size="17.44" textLength="34.40" lengthAdjust="spacingAndGlyphs" stroke="#000" stroke-width="0.1">stop</text>
<text x="475.30" y="911.95" font-size="17.44" textLength="3.17" lengthAdjust="spacingAndGlyphs" stroke="#000" stroke-width="0.1">:</text>
<text x="491.00" y="911.95" font-size="17.44" textLength="52.01" lengthAdjust="spacingAndGlyphs" stroke="#000" stroke-width="0.1">Plastic</text>
<rect x="1227.7" y="840" width="85.7" height="82.2" fill="none" stroke-width="1.8"/>
<line x1="1227.7" y1="860.4" x2="1313.4" y2="860.4" stroke-width="1.7" />
<line x1="1227.7" y1="881" x2="1313.4" y2="881" stroke-width="1.7" />
<line x1="1227.7" y1="901.5" x2="1313.4" y2="901.5" stroke-width="1.7" />
<line x1="1317.5" y1="840" x2="1733.3" y2="840" stroke-width="1.7" />
<line x1="1317.5" y1="860.4" x2="1733.3" y2="860.4" stroke-width="1.7" />
<line x1="1317.5" y1="881" x2="1733.3" y2="881" stroke-width="1.7" />
<line x1="1317.5" y1="901.5" x2="1733.3" y2="901.5" stroke-width="1.7" />
<line x1="1317.5" y1="922.2" x2="1733.3" y2="922.2" stroke-width="1.7" />
<line x1="1317.5" y1="839.2" x2="1317.5" y2="923" stroke-width="1.7" />
<line x1="1352.15" y1="839.2" x2="1352.15" y2="923" stroke-width="1.7" />
<line x1="1386.8" y1="839.2" x2="1386.8" y2="923" stroke-width="1.7" />
<line x1="1421.45" y1="839.2" x2="1421.45" y2="923" stroke-width="1.7" />
<line x1="1456.1" y1="839.2" x2="1456.1" y2="923" stroke-width="1.7" />
<line x1="1490.75" y1="839.2" x2="1490.75" y2="923" stroke-width="1.7" />
<line x1="1525.4" y1="839.2" x2="1525.4" y2="923" stroke-width="1.7" />
<line x1="1560.05" y1="839.2" x2="1560.05" y2="923" stroke-width="1.7" />
<line x1="1594.7" y1="839.2" x2="1594.7" y2="923" stroke-width="1.7" />
<line x1="1629.35" y1="839.2" x2="1629.35" y2="923" stroke-width="1.7" />
<line x1="1664.0" y1="839.2" x2="1664.0" y2="923" stroke-width="1.7" />
<line x1="1698.65" y1="839.2" x2="1698.65" y2="923" stroke-width="1.7" />
<line x1="1733.3" y1="839.2" x2="1733.3" y2="923" stroke-width="1.7" />
<text x="1230.47" y="856.2" font-size="14.83" textLength="9.07" lengthAdjust="spacingAndGlyphs" stroke="#000" stroke-width="0.2">L</text>
<text x="1322.03" y="856.2" font-size="14.83" textLength="25.58" lengthAdjust="spacingAndGlyphs" stroke="#000" stroke-width="0.2">250</text>
<text x="1356.67" y="856.2" font-size="14.83" textLength="25.58" lengthAdjust="spacingAndGlyphs" stroke="#000" stroke-width="0.2">300</text>
<text x="1391.33" y="856.2" font-size="14.83" textLength="25.58" lengthAdjust="spacingAndGlyphs" stroke="#000" stroke-width="0.2">350</text>
<text x="1425.98" y="856.2" font-size="14.83" textLength="25.58" lengthAdjust="spacingAndGlyphs" stroke="#000" stroke-width="0.2">400</text>
<text x="1460.62" y="856.2" font-size="14.83" textLength="25.58" lengthAdjust="spacingAndGlyphs" stroke="#000" stroke-width="0.2">450</text>
<text x="1495.28" y="856.2" font-size="14.83" textLength="25.58" lengthAdjust="spacingAndGlyphs" stroke="#000" stroke-width="0.2">500</text>
<text x="1529.92" y="856.2" font-size="14.83" textLength="25.58" lengthAdjust="spacingAndGlyphs" stroke="#000" stroke-width="0.2">550</text>
<text x="1564.58" y="856.2" font-size="14.83" textLength="25.58" lengthAdjust="spacingAndGlyphs" stroke="#000" stroke-width="0.2">600</text>
<text x="1599.23" y="856.2" font-size="14.83" textLength="25.58" lengthAdjust="spacingAndGlyphs" stroke="#000" stroke-width="0.2">650</text>
<text x="1633.88" y="856.2" font-size="14.83" textLength="25.58" lengthAdjust="spacingAndGlyphs" stroke="#000" stroke-width="0.2">700</text>
<text x="1668.53" y="856.2" font-size="14.83" textLength="25.58" lengthAdjust="spacingAndGlyphs" stroke="#000" stroke-width="0.2">750</text>
<text x="1703.17" y="856.2" font-size="14.83" textLength="25.58" lengthAdjust="spacingAndGlyphs" stroke="#000" stroke-width="0.2">800</text>
<text x="1229.54" y="876.6" font-size="14.83" textLength="10.88" lengthAdjust="spacingAndGlyphs" stroke="#000" stroke-width="0.2">A</text>
<text x="1322.03" y="876.6" font-size="14.83" textLength="25.58" lengthAdjust="spacingAndGlyphs" stroke="#000" stroke-width="0.2">150</text>
<text x="1356.67" y="876.6" font-size="14.83" textLength="25.58" lengthAdjust="spacingAndGlyphs" stroke="#000" stroke-width="0.2">200</text>
<text x="1229.58" y="896.8" font-size="14.83" textLength="10.88" lengthAdjust="spacingAndGlyphs" stroke="#000" stroke-width="0.2">B</text>
<text x="1391.33" y="896.8" font-size="14.83" textLength="25.58" lengthAdjust="spacingAndGlyphs" stroke="#000" stroke-width="0.2">125</text>
<text x="1425.98" y="896.8" font-size="14.83" textLength="25.58" lengthAdjust="spacingAndGlyphs" stroke="#000" stroke-width="0.2">150</text>
<text x="1460.62" y="896.8" font-size="14.83" textLength="25.58" lengthAdjust="spacingAndGlyphs" stroke="#000" stroke-width="0.2">175</text>
<text x="1495.28" y="896.8" font-size="14.83" textLength="25.58" lengthAdjust="spacingAndGlyphs" stroke="#000" stroke-width="0.2">200</text>
<text x="1529.92" y="896.8" font-size="14.83" textLength="25.58" lengthAdjust="spacingAndGlyphs" stroke="#000" stroke-width="0.2">225</text>
<text x="1564.58" y="896.8" font-size="14.83" textLength="25.58" lengthAdjust="spacingAndGlyphs" stroke="#000" stroke-width="0.2">250</text>
<text x="1599.23" y="896.8" font-size="14.83" textLength="25.58" lengthAdjust="spacingAndGlyphs" stroke="#000" stroke-width="0.2">275</text>
<text x="1633.88" y="896.8" font-size="14.83" textLength="25.58" lengthAdjust="spacingAndGlyphs" stroke="#000" stroke-width="0.2">300</text>
<text x="1668.53" y="896.8" font-size="14.83" textLength="25.58" lengthAdjust="spacingAndGlyphs" stroke="#000" stroke-width="0.2">325</text>
<text x="1703.17" y="896.8" font-size="14.83" textLength="25.58" lengthAdjust="spacingAndGlyphs" stroke="#000" stroke-width="0.2">350</text>
<text x="1229.13" y="917.3" font-size="14.83" textLength="11.78" lengthAdjust="spacingAndGlyphs" stroke="#000" stroke-width="0.2">D</text>
<text x="1322.03" y="917.3" font-size="14.83" textLength="25.58" lengthAdjust="spacingAndGlyphs" stroke="#000" stroke-width="0.2">380</text>
<text x="1356.67" y="917.3" font-size="14.83" textLength="25.58" lengthAdjust="spacingAndGlyphs" stroke="#000" stroke-width="0.2">455</text>
<text x="1391.33" y="917.3" font-size="14.83" textLength="25.58" lengthAdjust="spacingAndGlyphs" stroke="#000" stroke-width="0.2">530</text>
<text x="1425.98" y="917.3" font-size="14.83" textLength="25.58" lengthAdjust="spacingAndGlyphs" stroke="#000" stroke-width="0.2">605</text>
<text x="1460.62" y="917.3" font-size="14.83" textLength="25.58" lengthAdjust="spacingAndGlyphs" stroke="#000" stroke-width="0.2">685</text>
<text x="1495.28" y="917.3" font-size="14.83" textLength="25.58" lengthAdjust="spacingAndGlyphs" stroke="#000" stroke-width="0.2">755</text>
<text x="1529.92" y="917.3" font-size="14.83" textLength="25.58" lengthAdjust="spacingAndGlyphs" stroke="#000" stroke-width="0.2">830</text>
<text x="1564.58" y="917.3" font-size="14.83" textLength="25.58" lengthAdjust="spacingAndGlyphs" stroke="#000" stroke-width="0.2">900</text>
<text x="1599.23" y="917.3" font-size="14.83" textLength="25.58" lengthAdjust="spacingAndGlyphs" stroke="#000" stroke-width="0.2">980</text>
<text x="1633.33" y="917.3" font-size="14.83" textLength="26.70" lengthAdjust="spacingAndGlyphs" stroke="#000" stroke-width="0.2">1055</text>
<text x="1667.98" y="917.3" font-size="14.83" textLength="26.71" lengthAdjust="spacingAndGlyphs" stroke="#000" stroke-width="0.2">1125</text>
<text x="1702.62" y="917.3" font-size="14.83" textLength="26.70" lengthAdjust="spacingAndGlyphs" stroke="#000" stroke-width="0.2">1205</text>
</g></svg></body></html>
